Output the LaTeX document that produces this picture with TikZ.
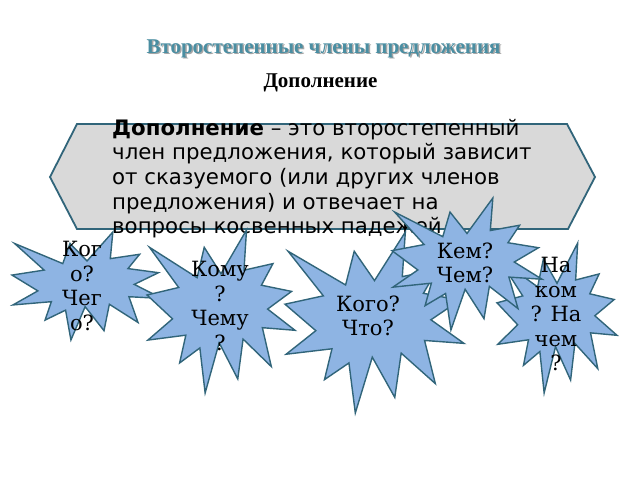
\documentclass[tikz,border=0pt]{standalone}
\usepackage{fontspec}
\setmainfont{DejaVu Serif}
\newfontfamily\bodyfont{DejaVu Sans}
\newfontfamily\headfont{Liberation Serif}
\definecolor{edgeteal}{HTML}{31657A}
\definecolor{burstblue}{HTML}{8EB4E3}
\definecolor{titleteal}{HTML}{4A8EA2}
\definecolor{panelgray}{HTML}{D9D9D9}
\tikzset{%
  panel/.style    = {draw=edgeteal, line width=1.8pt, fill=panelgray},%
  burst/.style    = {draw=edgeteal, line width=1.4pt, fill=burstblue},%
  question/.style = {align=center, inner sep=0pt,%
                     font=\fontsize{21}{24.5}\selectfont},%
  heading/.style  = {inner sep=0pt, font=\headfont\bfseries\fontsize{21}{24}\selectfont}%
}
\newcommand{\seal}[4]{%
  \begin{scope}[shift={(#1,#2)},x=#3pt,y=-#4pt]
    \draw[burst] (.5,.2685) -- (.6723,0) -- (.6553,.2465) -- (.8509,.2063)
      -- (.7732,.3387) -- (.9767,.3767) -- (.8151,.4850) -- (1,.6153)
      -- (.7795,.5992) -- (.8400,.8377) -- (.6491,.6693) -- (.6133,.9138)
      -- (.4876,.6914) -- (.3928,1) -- (.3572,.7235) -- (.2205,.8156)
      -- (.2624,.6452) -- (.0063,.6753) -- (.1723,.5451) -- (0,.3988)
      -- (.2142,.3526) -- (.0171,.1063) -- (.3385,.2926) -- (.3867,.1063)
      -- cycle;
  \end{scope}}
\begin{document}
\begin{tikzpicture}[x=1pt,y=-1pt]
	\useasboundingbox[fill=white] (0,0) rectangle (640,480);
	\node[heading, text=black!35] (titleshadow) at (325,50) {Второстепенные члены предложения};
	\node[heading, text=titleteal] (title) at (323.5,48.5) {Второстепенные члены предложения};
	\node[heading] (sub) at (320.5,83) {Дополнение};
	\draw[panel] (50,177) -- (77,124) -- (567,124) -- (595,177) -- (568,229) -- (77,229) -- cycle;
	\node (defn) [anchor=north west, inner sep=0pt, align=left,
		font=\bodyfont\fontsize{21.3}{24.6}\selectfont] at (112,119)
		{\textbf{Дополнение} – это второстепенный\\член предложения, который зависит\\от сказуемого (или других членов\\предложения) и отвечает на\\вопросы косвенных падежей.};
	\seal{12}{232}{150}{108}
	\node[question] (kogo) at (82,286) {Ког\\о?\\Чег\\о?};
	\seal{147}{230}{148}{163}
	\node[question] (komu) at (220,306) {Кому\\?\\Чему\\?};
	\seal{285}{232}{179}{181}
	\node[question] (chto) at (368,316) {Кого?\\Что?};
	\seal{497}{243}{120}{150}
	\node[question] (nakom) at (556,314) {На\\ком\\? На\\чем\\?};
	\seal{392}{198}{150}{132}
	\node[question] (kem) at (465,263) {Кем?\\Чем?};
\end{tikzpicture}
\end{document}
